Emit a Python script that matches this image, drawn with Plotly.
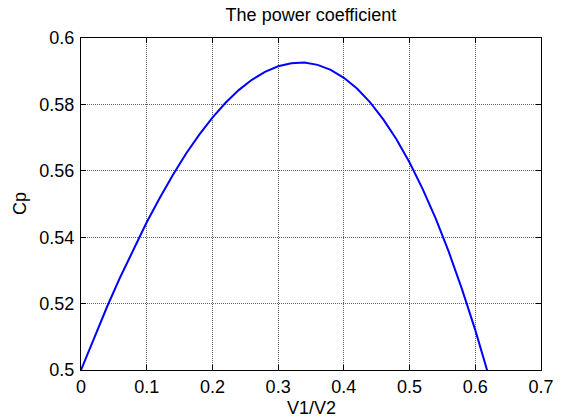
import plotly.graph_objects as go

# Velocity ratio V1/V2 and the power coefficient Cp
v_ratio = [0.00, 0.02, 0.04, 0.06, 0.08, 0.10, 0.12, 0.14, 0.16, 0.18,
           0.20, 0.22, 0.24, 0.26, 0.28, 0.30, 0.32, 0.34, 0.36, 0.38,
           0.40, 0.42, 0.44, 0.46, 0.48, 0.50, 0.52, 0.54, 0.56, 0.58,
           0.60, 0.62]
cp = [0.5000, 0.5098, 0.5192, 0.5281, 0.5365, 0.5445, 0.5519, 0.5588,
      0.5652, 0.5709, 0.5760, 0.5805, 0.5843, 0.5874, 0.5898, 0.5915,
      0.5924, 0.5926, 0.5919, 0.5904, 0.5880, 0.5848, 0.5806, 0.5755,
      0.5695, 0.5625, 0.5545, 0.5455, 0.5354, 0.5242, 0.5120, 0.4986]

x_ticks = [0, 0.1, 0.2, 0.3, 0.4, 0.5, 0.6, 0.7]
x_tick_text = ["0", "0.1", "0.2", "0.3", "0.4", "0.5", "0.6", "0.7"]
y_ticks = [0.5, 0.52, 0.54, 0.56, 0.58, 0.6]
y_tick_text = ["0.5", "0.52", "0.54", "0.56", "0.58", "0.6"]

FONT = "Liberation Sans, Arial, sans-serif"

fig = go.Figure()
fig.add_trace(go.Scatter(
    x=v_ratio, y=cp, mode="lines",
    line=dict(color="#0000ff", width=2),
    showlegend=False, hoverinfo="skip",
))

axis_common = dict(
    showline=True, linecolor="black", linewidth=1, mirror="ticks",
    ticks="inside", ticklen=5, tickwidth=1, tickcolor="black",
    showgrid=True, gridcolor="#606060", griddash="1px,1px", gridwidth=1,
    zeroline=False, tickfont=dict(family=FONT, size=18, color="black"),
)

fig.update_xaxes(range=[0, 0.7], tickmode="array", tickvals=x_ticks,
                 ticktext=x_tick_text, **axis_common)
fig.update_yaxes(range=[0.5, 0.6], tickmode="array", tickvals=y_ticks,
                 ticktext=y_tick_text, ticklabelstandoff=2, **axis_common)

fig.update_layout(
    width=566, height=420, autosize=False,
    margin=dict(l=81, r=16, t=38, b=50),
    paper_bgcolor="white", plot_bgcolor="white",
    font=dict(family=FONT, size=18, color="black"),
    title=dict(text="The power coefficient", x=0.5, xref="paper",
               y=1 - 15 / 420, yref="container", yanchor="middle",
               xanchor="center", font=dict(family=FONT, size=18)),
    annotations=[
        dict(text="V1/V2", xref="paper", yref="paper", x=0.5, y=0,
             yshift=-38, xanchor="center", yanchor="middle",
             showarrow=False, font=dict(family=FONT, size=18)),
        dict(text="Cp", xref="paper", yref="paper", x=0, y=0.5,
             xshift=-61, xanchor="center", yanchor="middle", textangle=-90,
             showarrow=False, font=dict(family=FONT, size=18)),
    ],
)

fig.write_html("out.html")
